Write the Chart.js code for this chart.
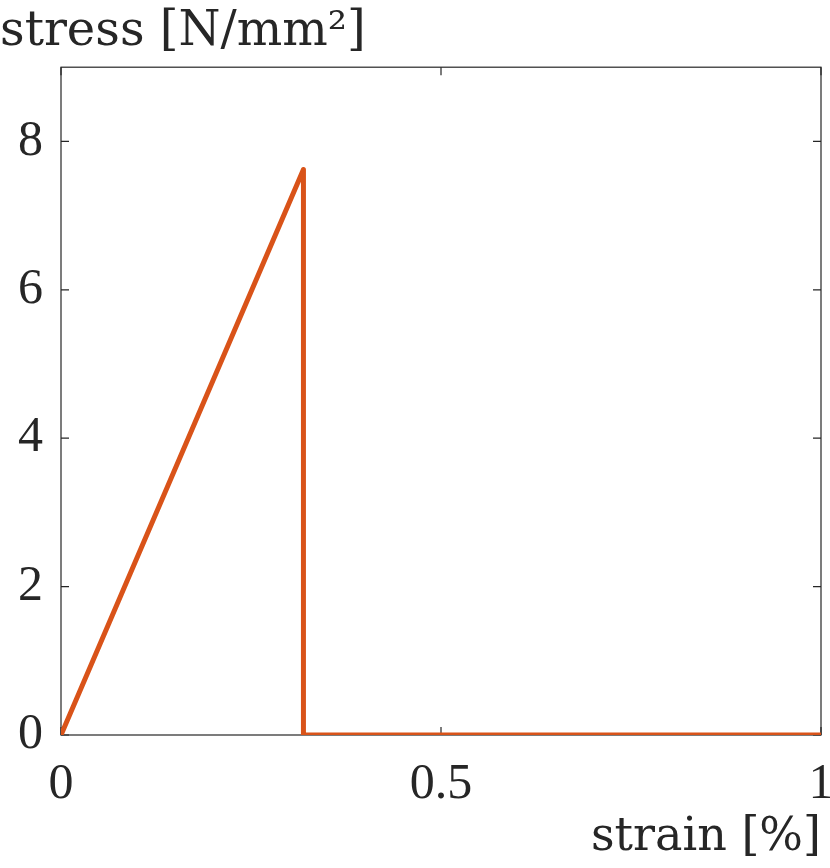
<!DOCTYPE html>
<html>
<head>
<meta charset="utf-8">
<script src="https://cdn.jsdelivr.net/npm/chart.js@4/dist/chart.umd.min.js"></script>
<style>
html,body{margin:0;padding:0;background:#fff;}
#wrap{width:830px;height:868px;position:relative;}
</style>
</head>
<body>
<div id="wrap"><canvas id="c" width="830" height="868"></canvas></div>
<script>
// Data
const strain = [0, 0.319, 0.319, 1];
const stress = [0, 7.62, 0, 0];
const xTicks = [0, 0.5, 1];
const yTicks = [0, 2, 4, 6, 8];
const xRange = [0, 1];
const yRange = [0, 9];
const xLabel = 'strain [%]';
const yLabel = 'stress [N/mm²]';

const AX = '#262626';
const LINE = '#D95319';
const TICK_FONT = {family: '"Liberation Serif", serif', size: 50};
const LABEL_FONT = {family: '"DejaVu Serif", serif', size: 46};

const framePlugin = {
  id: 'frame',
  beforeDatasetsDraw(chart) {
    const {ctx, chartArea: a, scales: {x, y}} = chart;
    ctx.save();
    ctx.strokeStyle = AX;
    ctx.lineWidth = 1.2;
    ctx.strokeRect(a.left, a.top, a.right - a.left, a.bottom - a.top);
    const tl = 8;
    ctx.beginPath();
    xTicks.forEach(v => {
      const px = x.getPixelForValue(v);
      ctx.moveTo(px, a.bottom); ctx.lineTo(px, a.bottom - tl);
      ctx.moveTo(px, a.top); ctx.lineTo(px, a.top + tl);
    });
    yTicks.forEach(v => {
      const py = y.getPixelForValue(v);
      ctx.moveTo(a.left, py); ctx.lineTo(a.left + tl, py);
      ctx.moveTo(a.right, py); ctx.lineTo(a.right - tl, py);
    });
    ctx.stroke();
    ctx.restore();
  }
};

new Chart(document.getElementById('c'), {
  type: 'scatter',
  data: {
    datasets: [{
      data: strain.map((v, i) => ({x: v, y: stress[i]})),
      showLine: true,
      borderColor: LINE,
      borderWidth: 5,
      pointRadius: 0,
      borderJoinStyle: 'round',
      borderCapStyle: 'butt',
      tension: 0
    }]
  },
  options: {
    responsive: false,
    animation: false,
    layout: {padding: {left: 0, right: 9, top: 0, bottom: 0}},
    plugins: {
      legend: {display: false},
      tooltip: {enabled: false},
      title: {
        display: true,
        text: yLabel,
        align: 'start',
        color: AX,
        font: {family: LABEL_FONT.family, size: 48, weight: 'normal', lineHeight: 1.15},
        padding: {top: 5, bottom: 7}
      }
    },
    scales: {
      x: {
        type: 'linear',
        min: xRange[0], max: xRange[1],
        afterBuildTicks: s => { s.ticks = xTicks.map(v => ({value: v})); },
        afterFit: s => { s.height = 133; s.paddingLeft = 0; s.paddingRight = 0; },
        grid: {display: false, drawTicks: false},
        border: {display: false},
        ticks: {
          color: AX, font: TICK_FONT, padding: 20, maxRotation: 0,
          autoSkip: false,
          callback: v => String(v)
        },
        title: {
          display: true, text: xLabel, align: 'end', color: AX,
          font: Object.assign({lineHeight: 1.2}, LABEL_FONT),
          padding: {top: 0, bottom: 2}
        }
      },
      y: {
        type: 'linear',
        min: yRange[0], max: yRange[1],
        afterBuildTicks: s => { s.ticks = yTicks.map(v => ({value: v})); },
        afterFit: s => { s.width = 61; s.paddingTop = 0; s.paddingBottom = 0; },
        grid: {display: false, drawTicks: false},
        border: {display: false},
        ticks: {
          color: AX, font: TICK_FONT, padding: 18, autoSkip: false,
          callback: v => String(v)
        }
      }
    }
  },
  plugins: [framePlugin]
});
</script>
</body>
</html>
